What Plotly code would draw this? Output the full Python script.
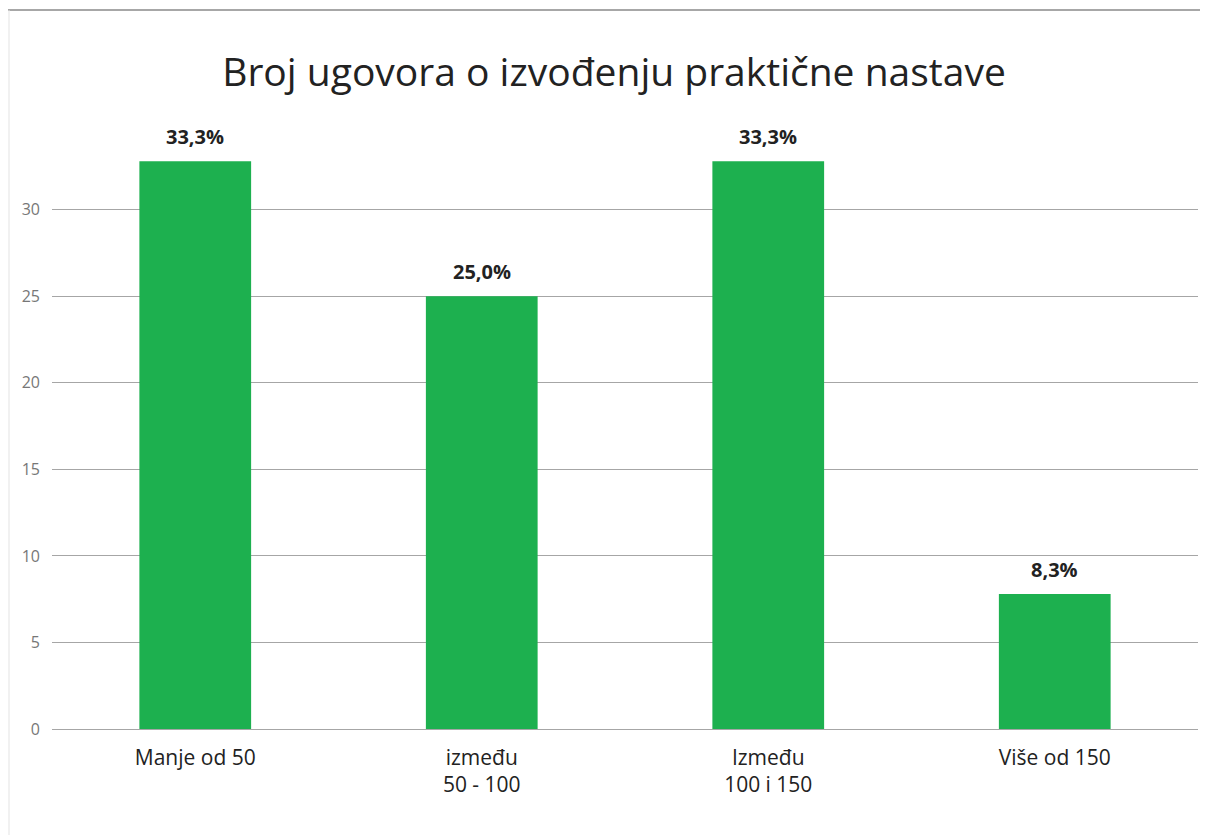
import plotly.graph_objects as go

# data
categories = ["Manje od 50", "između<br>50 - 100", "Između<br>100 i 150", "Više od 150"]
values = [32.8, 25.0, 32.8, 7.8]
labels = ["33,3%", "25,0%", "33,3%", "8,3%"]
y_ticks = [0, 5, 10, 15, 20, 25, 30]

green = "#1db04f"
font_family = "Open Sans, Lato, sans-serif"

fig = go.Figure()
fig.add_trace(go.Bar(
    x=categories,
    y=values,
    marker=dict(color=green, line=dict(width=0)),
    hoverinfo="skip",
))

# percentage labels above bars
for cat, val, lab in zip(categories, values, labels):
    fig.add_annotation(
        x=cat, y=val, text=f"<b>{lab}</b>",
        showarrow=False, yanchor="bottom", yshift=9,
        font=dict(size=20, color="#222222", family=font_family),
    )

W, H = 1208, 835
ml, mr, mt, mb = 44, 18, 107, 114
pw, ph = W - ml - mr, H - mt - mb

# frame lines (top border and faint left border)
top_y = (H - mb - 2) / ph
fig.add_shape(type="line", xref="paper", yref="paper",
              x0=(0 - ml) / pw, x1=(W - ml) / pw,
              y0=top_y, y1=top_y,
              line=dict(color="#8a8a8a", width=1.5))
fig.add_shape(type="line", xref="paper", yref="paper",
              x0=(1 - ml) / pw, x1=(1 - ml) / pw,
              y0=top_y, y1=(H - mb - H) / ph,
              line=dict(color="#e3e3e3", width=1))

fig.update_layout(
    width=W, height=H,
    title=dict(text="Broj ugovora o izvođenju praktične nastave",
               x=(614 - 8) / W, xanchor="center", y=1 - 64 / H, yanchor="middle",
               font=dict(size=39, color="#222222", family=font_family)),
    font=dict(family=font_family),
    plot_bgcolor="white", paper_bgcolor="white",
    margin=dict(l=ml, r=mr, t=mt, b=mb),
    bargap=0.61,
    showlegend=False,
    xaxis=dict(tickfont=dict(size=21, color="#222222"), showgrid=False,
               showline=False, ticks="", ticklabelstandoff=14),
    yaxis=dict(range=[0, ph / 17.31], tickvals=y_ticks,
               tickfont=dict(size=16, color="#777777"),
               showgrid=True, gridcolor="#a6a6a6", gridwidth=1,
               zeroline=True, zerolinecolor="#a6a6a6", zerolinewidth=1,
               showline=False, ticks="", ticklabelstandoff=11),
)

fig.write_html("out.html")
